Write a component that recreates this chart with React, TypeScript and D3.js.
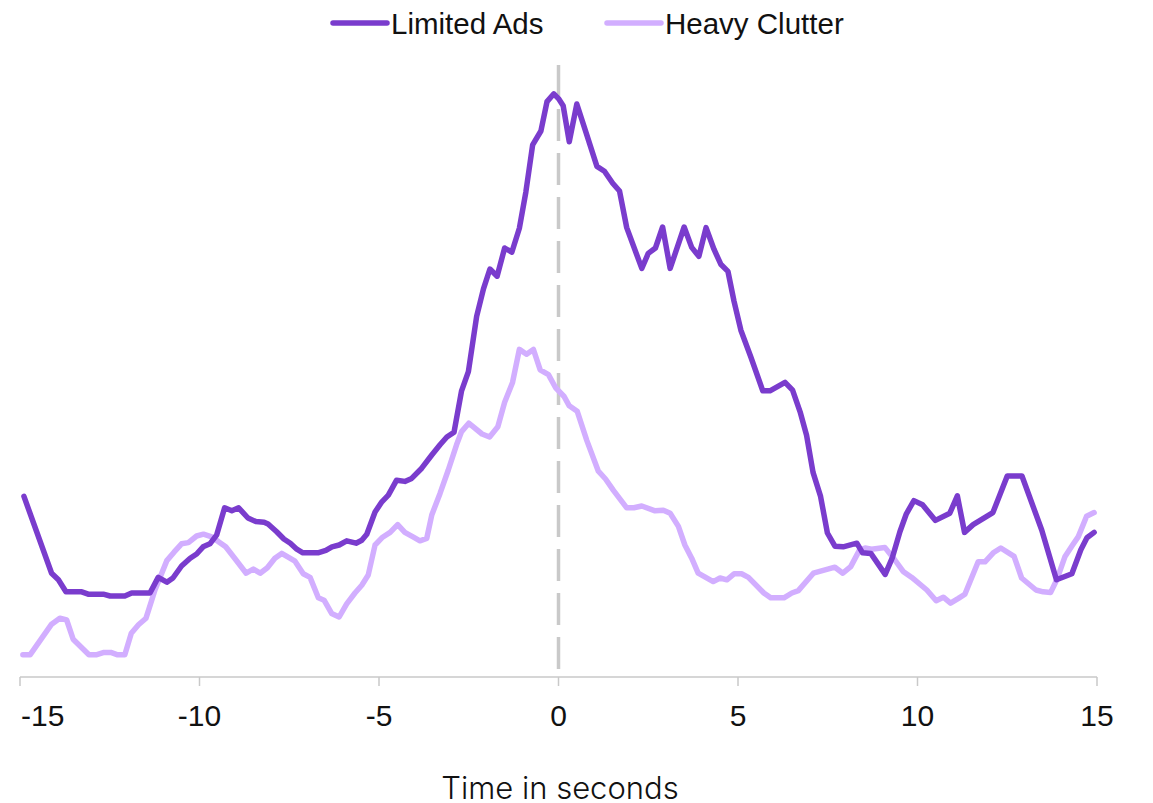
import React from "react";
import * as d3 from "d3";

// time in seconds relative to the event, engagement index
const limitedAds: [number, number][] = [
  [-14.89, 30.1], [-14.12, 17.3], [-13.93, 16.2], [-13.72, 14.2], [-13.28, 14.2], [-13.1, 13.8],
  [-12.68, 13.8], [-12.49, 13.5], [-12.08, 13.5], [-11.89, 14.0], [-11.38, 14.0], [-11.15, 16.6],
  [-10.91, 15.8], [-10.74, 16.5], [-10.5, 18.5], [-10.26, 19.8], [-10.08, 20.5], [-9.9, 21.7],
  [-9.71, 22.2], [-9.52, 23.7], [-9.3, 28.2], [-9.1, 27.7], [-8.91, 28.2], [-8.65, 26.5],
  [-8.43, 25.9], [-8.2, 25.8], [-8.09, 25.5], [-7.85, 24.2], [-7.65, 23.0], [-7.47, 22.3],
  [-7.29, 21.3], [-7.12, 20.7], [-6.7, 20.7], [-6.48, 21.1], [-6.31, 21.7], [-6.11, 22.0],
  [-5.9, 22.7], [-5.64, 22.3], [-5.48, 22.8], [-5.34, 23.8], [-5.11, 27.5], [-4.92, 29.2],
  [-4.74, 30.3], [-4.51, 32.8], [-4.28, 32.6], [-4.09, 33.1], [-3.81, 34.8], [-3.53, 37.0],
  [-3.3, 38.7], [-3.11, 40.0], [-2.91, 40.8], [-2.7, 47.7], [-2.51, 50.9], [-2.28, 60.1],
  [-2.09, 64.7], [-1.91, 68.0], [-1.71, 66.8], [-1.5, 71.5], [-1.3, 70.8], [-1.09, 74.8],
  [-0.91, 80.8], [-0.72, 88.7], [-0.49, 91.0], [-0.32, 95.9], [-0.13, 97.2], [0.0, 96.4],
  [0.13, 95.2], [0.3, 89.2], [0.51, 95.5], [0.77, 90.7], [1.07, 85.1], [1.28, 84.3],
  [1.51, 82.3], [1.7, 81.0], [1.9, 74.9], [2.32, 68.1], [2.5, 70.6], [2.7, 71.5],
  [2.9, 75.0], [3.11, 68.1], [3.5, 75.0], [3.71, 71.6], [3.91, 70.1], [4.11, 74.9],
  [4.33, 71.3], [4.52, 68.8], [4.72, 67.6], [4.89, 62.6], [5.08, 57.8], [5.36, 53.3],
  [5.69, 47.7], [5.89, 47.7], [6.31, 49.1], [6.52, 47.8], [6.73, 44.2], [6.91, 40.3],
  [7.09, 34.1], [7.3, 30.1], [7.49, 24.0], [7.7, 21.8], [7.93, 21.7], [8.31, 22.3],
  [8.47, 20.7], [8.7, 20.6], [9.1, 17.1], [9.3, 19.9], [9.51, 24.2], [9.69, 27.2],
  [9.9, 29.4], [10.14, 28.7], [10.5, 26.1], [10.9, 27.3], [11.11, 30.2], [11.31, 24.1],
  [11.55, 25.4], [12.1, 27.4], [12.5, 33.5], [12.91, 33.5], [13.46, 24.5], [13.87, 16.2],
  [14.3, 17.2], [14.55, 21.2], [14.72, 23.2], [14.92, 24.1],
];

const heavyClutter: [number, number][] = [
  [-14.92, 3.7], [-14.72, 3.7], [-14.12, 8.8], [-13.89, 9.8], [-13.7, 9.5], [-13.52, 6.3],
  [-13.08, 3.7], [-12.88, 3.7], [-12.66, 4.1], [-12.47, 4.1], [-12.28, 3.7], [-12.08, 3.7],
  [-11.9, 7.3], [-11.7, 8.7], [-11.49, 9.8], [-11.24, 14.5], [-10.91, 19.4], [-10.71, 20.8],
  [-10.5, 22.2], [-10.31, 22.4], [-10.08, 23.5], [-9.89, 23.8], [-9.68, 23.4], [-9.48, 22.6],
  [-9.27, 21.7], [-9.01, 19.7], [-8.7, 17.3], [-8.5, 18.0], [-8.31, 17.3], [-8.11, 18.2],
  [-7.9, 19.8], [-7.71, 20.6], [-7.34, 19.3], [-7.11, 17.2], [-6.92, 16.6], [-6.69, 13.2],
  [-6.53, 12.8], [-6.32, 10.6], [-6.11, 10.0], [-5.9, 12.2], [-5.67, 14.0], [-5.48, 15.3],
  [-5.3, 17.0], [-5.11, 22.0], [-4.9, 23.3], [-4.69, 24.1], [-4.48, 25.4], [-4.28, 24.1],
  [-4.04, 23.3], [-3.86, 22.7], [-3.67, 23.1], [-3.53, 27.0], [-3.3, 30.6], [-3.07, 34.5],
  [-2.84, 38.7], [-2.7, 40.9], [-2.5, 42.3], [-2.13, 40.5], [-1.92, 40.0], [-1.69, 41.7],
  [-1.5, 45.8], [-1.28, 49.1], [-1.09, 54.6], [-0.89, 53.8], [-0.7, 54.6], [-0.51, 51.2],
  [-0.28, 50.4], [-0.08, 48.2], [0.15, 46.8], [0.3, 45.2], [0.52, 44.3], [0.79, 39.4],
  [1.11, 34.3], [1.31, 33.0], [1.53, 31.1], [1.9, 28.2], [2.1, 28.2], [2.32, 28.5],
  [2.69, 27.7], [2.92, 27.8], [3.11, 27.3], [3.34, 25.1], [3.52, 22.0], [3.71, 19.8],
  [3.89, 17.3], [4.31, 15.9], [4.5, 16.5], [4.69, 16.2], [4.89, 17.2], [5.1, 17.2],
  [5.29, 16.6], [5.72, 14.0], [5.91, 13.2], [6.28, 13.2], [6.5, 14.0], [6.68, 14.4],
  [7.1, 17.3], [7.7, 18.3], [7.92, 17.3], [8.14, 18.4], [8.38, 21.1], [8.54, 21.5],
  [8.72, 21.3], [9.09, 21.6], [9.37, 19.5], [9.6, 17.6], [9.84, 16.6], [10.26, 14.5],
  [10.52, 12.7], [10.72, 13.3], [10.92, 12.3], [11.14, 13.1], [11.32, 13.8], [11.69, 19.2],
  [11.88, 19.2], [12.11, 20.7], [12.32, 21.5], [12.69, 20.1], [12.9, 16.5], [13.3, 14.5],
  [13.5, 14.2], [13.71, 14.1], [13.88, 16.2], [14.11, 20.1], [14.32, 22.0], [14.48, 23.4],
  [14.71, 26.8], [14.92, 27.4],
];

const seriesNames = ["Limited Ads", "Heavy Clutter"];
const xTicks = [-15, -10, -5, 0, 5, 10, 15];
const xDomain: [number, number] = [-15, 15];
const yDomain: [number, number] = [0, 102];
const eventTime = 0;
const xTitle = "Time in seconds";

const COLORS = ["#7a3ccd", "#d2aeff"];
const AXIS_GRAY = "#c9c9c9";

export default function App() {
  const width = 1153;
  const height = 803;
  const left = 20;
  const right = 1097;
  const top = 65;
  const bottom = 677;

  const x = d3.scaleLinear().domain(xDomain).range([left, right]);
  const y = d3.scaleLinear().domain(yDomain).range([bottom, top]);

  const line = d3
    .line<[number, number]>()
    .x((d) => x(d[0]))
    .y((d) => y(d[1]))
    .curve(d3.curveLinear);

  const series = [heavyClutter, limitedAds];
  const seriesColor = [COLORS[1], COLORS[0]];

  const legendItems = [
    { name: seriesNames[0], color: COLORS[0], x0: 333 },
    { name: seriesNames[1], color: COLORS[1], x0: 607 },
  ];

  const fontTick = "'Liberation Sans', Arial, sans-serif";

  return (
    <svg
      width={width}
      height={height}
      style={{ position: "absolute", left: 0, top: 0, background: "#fff" }}
    >
      {/* event marker */}
      <line
        x1={x(eventTime)}
        x2={x(eventTime)}
        y1={y(yDomain[1])}
        y2={bottom}
        stroke={AXIS_GRAY}
        strokeWidth={3.5}
        strokeDasharray="32 12"
      />

      {/* series */}
      {series.map((s, i) => (
        <path
          key={i}
          d={line(s) || ""}
          fill="none"
          stroke={seriesColor[i]}
          strokeWidth={5.5}
          strokeLinejoin="round"
          strokeLinecap="round"
        />
      ))}

      {/* x axis */}
      <line x1={left} x2={right} y1={bottom} y2={bottom} stroke={AXIS_GRAY} strokeWidth={1.5} />
      {xTicks.map((t) => (
        <line
          key={"t" + t}
          x1={x(t)}
          x2={x(t)}
          y1={bottom}
          y2={bottom + 9}
          stroke={AXIS_GRAY}
          strokeWidth={1.5}
        />
      ))}
      {xTicks.map((t, i) => (
        <text
          key={"l" + t}
          x={i === 0 ? x(t) + 1 : x(t)}
          y={715}
          textAnchor={i === 0 ? "start" : "middle"}
          dominantBaseline="central"
          fontFamily={fontTick}
          fontSize={30}
          fill="#111"
        >
          {t}
        </text>
      ))}
      <text
        x={560}
        y={799}
        textAnchor="middle"
        fontFamily="Inter, 'Noto Sans', sans-serif"
        fontWeight={300}
        fontSize={31}
        fill="#111"
      >
        {xTitle}
      </text>

      {/* legend */}
      {legendItems.map((it) => (
        <g key={it.name}>
          <line
            x1={it.x0}
            x2={it.x0 + 54}
            y1={23}
            y2={23}
            stroke={it.color}
            strokeWidth={5.5}
            strokeLinecap="round"
          />
          <text
            x={it.x0 + 58}
            y={23}
            dominantBaseline="central"
            fontFamily={fontTick}
            fontSize={29.5}
            fill="#111"
          >
            {it.name}
          </text>
        </g>
      ))}
    </svg>
  );
}
